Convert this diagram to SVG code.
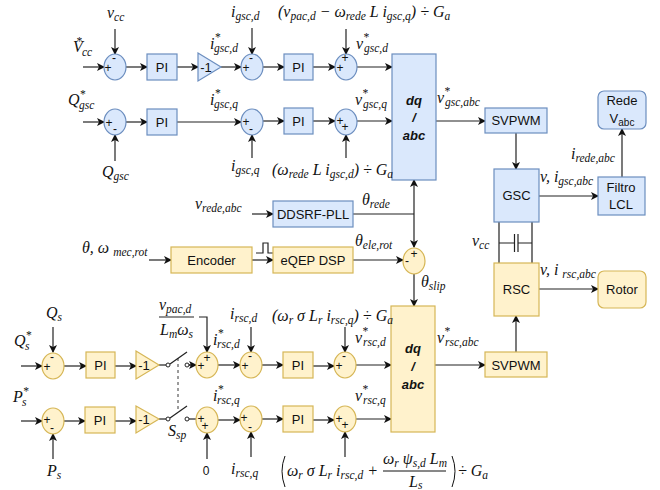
<svg xmlns="http://www.w3.org/2000/svg" width="660" height="490" viewBox="0 0 660 490">
<defs>
<marker id="a" markerWidth="9" markerHeight="8" refX="7" refY="4" orient="auto" markerUnits="userSpaceOnUse"><path d="M0 0L8 4L0 8L2 4Z" fill="#111"/></marker>
</defs>
<style>
text{font-family:"Liberation Sans",Arial,sans-serif;fill:#111}
.b{fill:#dae8fc;stroke:#6c8ebf;stroke-width:1.2}
.y{fill:#fff2cc;stroke:#d6b656;stroke-width:1.2}
.l{font-size:13px;text-anchor:middle}
.p{font-size:12px;text-anchor:middle}
.m{font-family:"Liberation Serif",serif;font-style:italic;font-size:16px}
.n{font-style:normal}
.s{font-size:11.5px}
.t{font-size:12px}
#connectors path{fill:none;stroke:#222;stroke-width:1.2}
#connectors .r{marker-end:url(#a)}
</style>
<g id="connectors">
<path class="r" d="M83 67H104"/><path class="r" d="M115 29V54"/><path class="r" d="M126 67H147"/><path class="r" d="M177 67H198"/><path class="r" d="M221 67H241"/><path class="r" d="M252 28V54"/><path class="r" d="M263 67H284"/><path class="r" d="M313 67H335"/><path class="r" d="M346 29V54"/><path class="r" d="M357 67H392"/>
<path class="r" d="M83 122H104"/><path class="r" d="M115 161V135"/><path class="r" d="M126 122H147"/><path class="r" d="M177 122H241"/><path class="r" d="M252 158V135"/><path class="r" d="M263 121H284"/><path class="r" d="M313 121H335"/><path class="r" d="M346 158V135"/><path class="r" d="M357 121H392"/>
<path class="r" d="M436 121H485"/><path class="r" d="M516 133V169"/><path class="r" d="M539 196H598"/><path class="r" d="M622 177V129"/>
<path d="M499 222V263M532 222V263M499 243H514.500M518 243H532M514.500 234V252M518 234V252"/>
<path class="r" d="M539 289H598"/><path class="r" d="M516 352V316"/>
<path class="r" d="M252 214H273"/><path d="M353 214H414"/><path class="r" d="M414 214V247"/><path class="r" d="M414 214V180"/>
<path class="r" d="M149 260H171"/><path class="r" d="M252 260H273"/><path d="M256 253H263V243H268V253H273"/><path class="r" d="M353 260H403"/><path class="r" d="M414 274V306"/>
<path class="r" d="M21 366H42"/><path class="r" d="M53 327V352"/><path class="r" d="M64 366H86"/><path class="r" d="M115 366H136"/><path d="M159 365H166"/><path d="M170 364L187 352"/><path d="M189 365H196"/><path class="r" d="M189 365H196"/><path class="r" d="M218 365H240"/><path class="r" d="M199 317H207V352"/><path class="r" d="M251 327V352"/><path class="r" d="M262 365H283"/><path class="r" d="M313 366H334"/><path class="r" d="M345 327V352"/><path class="r" d="M356 365H391"/>
<path class="r" d="M21 421H42"/><path class="r" d="M53 459V434"/><path class="r" d="M64 421H85"/><path class="r" d="M115 421H136"/><path d="M159 419H166"/><path d="M170 418L187 406"/><path d="M189 419H196"/><path class="r" d="M218 420H240"/><path class="r" d="M207 459V433"/><path class="r" d="M251 457V432"/><path class="r" d="M262 419H283"/><path class="r" d="M313 420H334"/><path class="r" d="M345 457V432"/><path class="r" d="M356 419H391"/>
<path d="M178 358V410" style="stroke-dasharray:3 3;stroke-width:.9"/>
<path class="r" d="M435 365H485"/>
<path d="M160 317H192M160 332H0" style="display:none"/>
<path d="M159 317H194"/>
<circle cx="168" cy="365" r="2" fill="#fff" stroke="#222"/><circle cx="187" cy="365" r="2" fill="#fff" stroke="#222"/><circle cx="168" cy="419" r="2" fill="#fff" stroke="#222"/><circle cx="187" cy="419" r="2" fill="#fff" stroke="#222"/>
</g>

<g id="s1"><ellipse class="b" cx="115" cy="67" rx="11" ry="13"/><text class="p" x="108" y="72">+</text><text class="p" x="114" y="62">-</text></g>
<g id="pi1"><rect class="b" x="147" y="54" width="30" height="26"/><text class="l" x="162" y="72">PI</text></g>
<g id="g1"><path class="b" d="M198 53L221 67L198 81Z"/><text class="l" x="206" y="72">-1</text></g>
<g id="s2"><ellipse class="b" cx="252" cy="67" rx="11" ry="13"/><text class="p" x="246" y="72">+</text><text class="p" x="251" y="62">-</text></g>
<g id="pi2"><rect class="b" x="284" y="54" width="29" height="26"/><text class="l" x="298.500" y="72">PI</text></g>
<g id="s3"><ellipse class="b" cx="346" cy="67" rx="11" ry="13"/><text class="p" x="340" y="72">+</text><text class="p" x="345" y="62">+</text></g>
<g id="s4"><ellipse class="b" cx="115" cy="122" rx="11" ry="13"/><text class="p" x="109" y="127">+</text><text class="p" x="115" y="133">-</text></g>
<g id="pi3"><rect class="b" x="147" y="109" width="30" height="26"/><text class="l" x="162" y="127">PI</text></g>
<g id="s5"><ellipse class="b" cx="252" cy="122" rx="11" ry="13"/><text class="p" x="246" y="126">+</text><text class="p" x="251" y="133">-</text></g>
<g id="pi4"><rect class="b" x="284" y="108" width="29" height="26"/><text class="l" x="298.500" y="126">PI</text></g>
<g id="s6"><ellipse class="b" cx="346" cy="122" rx="11" ry="13"/><text class="p" x="340" y="125">+</text><text class="p" x="345" y="131">+</text></g>
<g id="dq1"><rect class="b" x="392" y="54" width="44" height="126"/><text class="l" x="414" y="105" font-style="italic" font-weight="bold">dq</text><text class="l" x="414" y="122" font-style="italic" font-weight="bold">/</text><text class="l" x="414" y="140" font-style="italic" font-weight="bold">abc</text></g>
<g id="svpwm1"><rect class="b" x="485" y="108" width="62" height="25"/><text class="l" x="516" y="125">SVPWM</text></g>
<g id="gsc"><rect class="b" x="494" y="169" width="45" height="53"/><text class="l" x="516.500" y="200">GSC</text></g>
<g id="filtro"><rect class="b" x="598" y="177" width="47" height="38"/><text class="l" x="621" y="192">Filtro</text><text class="l" x="621" y="209">LCL</text></g>
<g id="rede"><rect class="b" x="598" y="91" width="48" height="38" rx="6"/><text class="l" x="622" y="105">Rede</text><text class="l" x="622" y="123">V<tspan font-size="10" dy="3">abc</tspan></text></g>
<g id="rsc"><rect class="y" x="494" y="263" width="45" height="53"/><text class="l" x="516.500" y="294">RSC</text></g>
<g id="rotor"><rect class="y" x="598" y="271" width="48" height="37" rx="6"/><text class="l" x="622" y="294">Rotor</text></g>
<g id="pll"><rect class="b" x="273" y="201" width="80" height="26"/><text class="l" x="313" y="219">DDSRF-PLL</text></g>
<g id="encoder"><rect class="y" x="171" y="247" width="81" height="26"/><text class="l" x="211.500" y="265">Encoder</text></g>
<g id="eqep"><rect class="y" x="273" y="247" width="80" height="26"/><text class="l" x="313" y="265">eQEP DSP</text></g>
<g id="s7"><ellipse class="y" cx="414" cy="261" rx="11" ry="13"/><text class="p" x="414" y="258">+</text><text class="p" x="407" y="265">-</text></g>
<g id="dq2"><rect class="y" x="391" y="306" width="44" height="126"/><text class="l" x="413" y="353" font-style="italic" font-weight="bold">dq</text><text class="l" x="413" y="371" font-style="italic" font-weight="bold">/</text><text class="l" x="413" y="389" font-style="italic" font-weight="bold">abc</text></g>
<g id="svpwm2"><rect class="y" x="485" y="352" width="62" height="25"/><text class="l" x="516" y="370">SVPWM</text></g>
<g id="s8"><ellipse class="y" cx="53" cy="366" rx="11" ry="13"/><text class="p" x="47" y="371">+</text><text class="p" x="52" y="361">-</text></g>
<g id="pi5"><rect class="y" x="86" y="352" width="29" height="26"/><text class="l" x="100.500" y="370">PI</text></g>
<g id="g2"><path class="y" d="M136 351L159 365L136 379Z"/><text class="l" x="144" y="370">-1</text></g>
<g id="s9"><ellipse class="y" cx="207" cy="365" rx="11" ry="13"/><text class="p" x="201" y="370">+</text><text class="p" x="207" y="362">+</text></g>
<g id="s10"><ellipse class="y" cx="251" cy="365" rx="11" ry="13"/><text class="p" x="245" y="370">+</text><text class="p" x="250" y="360">-</text></g>
<g id="pi6"><rect class="y" x="283" y="352" width="30" height="26"/><text class="l" x="298" y="370">PI</text></g>
<g id="s11"><ellipse class="y" cx="345" cy="365" rx="11" ry="13"/><text class="p" x="339" y="370">+</text><text class="p" x="344" y="360">-</text></g>
<g id="s12"><ellipse class="y" cx="53" cy="421" rx="11" ry="13"/><text class="p" x="47" y="424">+</text><text class="p" x="52" y="432">-</text></g>
<g id="pi7"><rect class="y" x="85" y="407" width="30" height="26"/><text class="l" x="100" y="425">PI</text></g>
<g id="g3"><path class="y" d="M136 406L159 419L136 433Z"/><text class="l" x="144" y="424">-1</text></g>
<g id="s13"><ellipse class="y" cx="207" cy="420" rx="11" ry="13"/><text class="p" x="201" y="423">+</text><text class="p" x="205" y="430">+</text></g>
<g id="s14"><ellipse class="y" cx="251" cy="419" rx="11" ry="13"/><text class="p" x="244" y="422">+</text><text class="p" x="250" y="431">-</text></g>
<g id="pi8"><rect class="y" x="283" y="406" width="30" height="26"/><text class="l" x="298" y="424">PI</text></g>
<g id="s15"><ellipse class="y" cx="345" cy="419" rx="11" ry="13"/><text class="p" x="339" y="423">+</text><text class="p" x="345" y="429">+</text></g>

<g id="labels">
<text class="m" x="107" y="18">v<tspan class="s" dy="3">cc</tspan></text>
<text class="m" x="73" y="52">V<tspan class="s" x="73" dy="-7">  *</tspan><tspan class="s" x="82" dy="11">cc</tspan></text>
<text class="m" x="210" y="49">i<tspan class="s" dx="0" dy="-8">*</tspan><tspan class="s" x="214" dy="11">gsc,d</tspan></text>
<text class="m" x="231" y="17">i<tspan class="s" dy="3">gsc,d</tspan></text>
<text class="m" x="278" y="17">(v<tspan class="s" dy="3">pac,d</tspan><tspan dy="-3"> − ω</tspan><tspan class="s" dy="3">rede</tspan><tspan dy="-3"> L i</tspan><tspan class="s" dy="3">gsc,q</tspan><tspan dy="-3">) ÷ G</tspan><tspan class="s" dy="3">a</tspan></text>
<text class="m" x="356" y="49">v<tspan class="s" dy="-8">*</tspan><tspan class="s" x="364" dy="11">gsc,d</tspan></text>
<text class="m" x="68" y="105">Q<tspan class="s" dy="-7">*</tspan><tspan class="s" x="79" dy="11">gsc</tspan></text>
<text class="m" x="102" y="177">Q<tspan class="s" dy="3">gsc</tspan></text>
<text class="m" x="210" y="105">i<tspan class="s" dy="-8">*</tspan><tspan class="s" x="214" dy="11">gsc,q</tspan></text>
<text class="m" x="231" y="171">i<tspan class="s" dy="3">gsc,q</tspan></text>
<text class="m" x="272" y="175">(ω<tspan class="s" dy="3">rede</tspan><tspan dy="-3"> L i</tspan><tspan class="s" dy="3">gsc,d</tspan><tspan dy="-3">) ÷ G</tspan><tspan class="s" dy="3">a</tspan></text>
<text class="m" x="355" y="105">v<tspan class="s" dy="-8">*</tspan><tspan class="s" x="363" dy="11">gsc,q</tspan></text>
<text class="m" x="437" y="103">v<tspan class="s" dy="-8">*</tspan><tspan class="s" x="445" dy="11">gsc,abc</tspan></text>
<text class="m" x="571" y="159">i<tspan class="s" dy="3">rede,abc</tspan></text>
<text class="m" x="540" y="182">v, i<tspan class="s" dy="3">gsc,abc</tspan></text>
<text class="m" x="472" y="246">v<tspan class="s" dy="3">cc</tspan></text>
<text class="m" x="540" y="275">v, i <tspan class="s" dy="3">rsc,abc</tspan></text>
<text class="m" x="195" y="209">v<tspan class="s" dy="3">rede,abc</tspan></text>
<text class="m" x="362" y="205">θ<tspan class="s" dy="3">rede</tspan></text>
<text class="m" x="82" y="253">θ, ω <tspan class="s" dy="3">mec,rot</tspan></text>
<text class="m" x="355" y="246">θ<tspan class="s" dy="3">ele,rot</tspan></text>
<text class="m" x="421" y="287">θ<tspan class="s" dy="3">slip</tspan></text>
<text class="m" x="159" y="310">v<tspan class="s" dy="3">pac,d</tspan></text>
<text class="m" x="160" y="335">L<tspan class="s" dy="3">m</tspan><tspan dy="-3">ω</tspan><tspan class="s" dy="3">s</tspan></text>
<text class="m" x="230" y="319">i<tspan class="s" dy="3">rsc,d</tspan></text>
<text class="m" x="272" y="321">(ω<tspan class="s" dy="3">r</tspan><tspan dy="-3"> σ L</tspan><tspan class="s" dy="3">r</tspan><tspan dy="-3"> i</tspan><tspan class="s" dy="3">rsc,q</tspan><tspan dy="-3">) ÷ G</tspan><tspan class="s" dy="3">a</tspan></text>
<text class="m" x="213" y="345">i<tspan class="s" dy="-8">*</tspan><tspan class="s" x="217" dy="11">rsc,d</tspan></text>
<text class="m" x="355" y="343">v<tspan class="s" dy="-8">*</tspan><tspan class="s" x="363" dy="11">rsc,d</tspan></text>
<text class="m" x="437" y="343">v<tspan class="s" dy="-8">*</tspan><tspan class="s" x="445" dy="11">rsc,abc</tspan></text>
<text class="m" x="46" y="318">Q<tspan class="s" dy="3">s</tspan></text>
<text class="m" x="14" y="346">Q<tspan class="s" dy="-7">*</tspan><tspan class="s" x="25" dy="11">s</tspan></text>
<text class="m" x="13" y="402">P<tspan class="s" dy="-7">*</tspan><tspan class="s" x="22" dy="11">s</tspan></text>
<text class="m" x="47" y="476">P<tspan class="s" dy="3">s</tspan></text>
<text class="m" x="168" y="436">S<tspan class="s" dy="3">sp</tspan></text>
<text class="m" x="213" y="401">i<tspan class="s" dy="-8">*</tspan><tspan class="s" x="217" dy="11">rsc,q</tspan></text>
<text class="m" x="355" y="401">v<tspan class="s" dy="-8">*</tspan><tspan class="s" x="363" dy="11">rsc,q</tspan></text>
<text x="206" y="475" font-size="12" text-anchor="middle">0</text>
<text class="m" x="231" y="474">i<tspan class="s" dy="3">rsc,q</tspan></text>
<text class="m" x="287" y="476">ω<tspan class="s" dy="3">r</tspan><tspan dy="-3"> σ L</tspan><tspan class="s" dy="3">r</tspan><tspan dy="-3"> i</tspan><tspan class="s" dy="3">rsc,d</tspan><tspan dy="-3"> +</tspan></text>
<text class="m" x="383" y="464">ω<tspan class="s" dy="3">r</tspan><tspan dy="-3"> ψ</tspan><tspan class="s" dy="3">s,d</tspan><tspan dy="-3"> L</tspan><tspan class="s" dy="3">m</tspan></text>
<text class="m" x="409" y="487">L<tspan class="s" dy="2">s</tspan></text>
<text class="m" x="458" y="476">÷ G<tspan class="s" dy="3">a</tspan></text>
<path d="M383 471H446" fill="none" stroke="#111"/>
<path d="M163 321H194" fill="none" stroke="#111" style="display:none"/>
<path d="M285 456Q279 471 285 487M452 456Q458 471 452 487" fill="none" stroke="#111"/>
</g>
</svg>
